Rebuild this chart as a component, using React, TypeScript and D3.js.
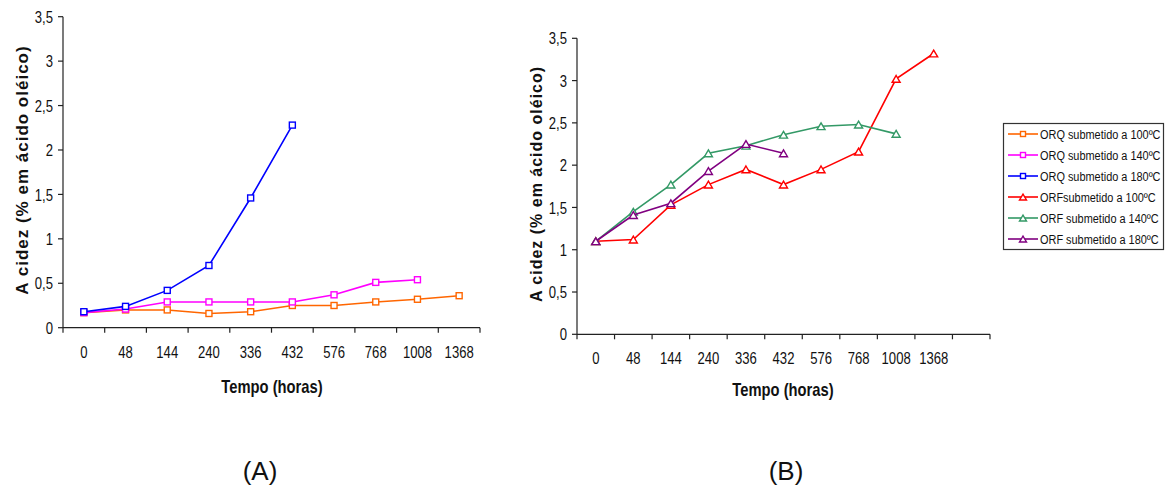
import React from "react";
import * as d3 from "d3";

const categoriesA = ["0", "48", "144", "240", "336", "432", "576", "768", "1008", "1368"];
const categoriesB = ["0", "48", "144", "240", "336", "432", "576", "768", "1008", "1368", ""];
const yTicks = [0, 0.5, 1, 1.5, 2, 2.5, 3, 3.5];

const orq100 = [0.17, 0.2, 0.2, 0.16, 0.18, 0.25, 0.25, 0.29, 0.32, 0.36];
const orq140 = [0.17, 0.21, 0.29, 0.29, 0.29, 0.29, 0.37, 0.51, 0.54, null];
const orq180 = [0.18, 0.24, 0.42, 0.7, 1.46, 2.28, null, null, null, null];
const orf100 = [1.1, 1.12, 1.53, 1.77, 1.95, 1.77, 1.95, 2.16, 3.02, 3.32];
const orf140 = [1.1, 1.45, 1.77, 2.14, 2.23, 2.36, 2.46, 2.48, 2.37, null];
const orf180 = [1.1, 1.41, 1.55, 1.93, 2.25, 2.14, null, null, null, null];

const seriesA = [
  { name: "ORQ submetido a 100ºC", values: orq100, color: "#FF6600" },
  { name: "ORQ submetido a 140ºC", values: orq140, color: "#FF00FF" },
  { name: "ORQ submetido a 180ºC", values: orq180, color: "#0000FF" },
];
const seriesB = [
  { name: "ORFsubmetido a 100ºC", values: orf100, color: "#FF0000" },
  { name: "ORF submetido a 140ºC", values: orf140, color: "#339966" },
  { name: "ORF submetido a 180ºC", values: orf180, color: "#800080" },
];

const sans = "'Liberation Sans', Arial, sans-serif";

type Series = { name: string; values: (number | null)[]; color: string };

function NText({
  x, y, size, anchor = "start", weight = "normal", sx = 0.82, dy, children,
}: {
  x: number; y: number; size: number; anchor?: "start" | "middle" | "end"; weight?: string; sx?: number; dy?: string; children: React.ReactNode;
}) {
  return (
    <text
      transform={`translate(${x},${y}) scale(${sx},1)`}
      textAnchor={anchor}
      fontFamily={sans}
      fontSize={size}
      fontWeight={weight}
      dy={dy}
      fill="#111"
    >
      {children}
    </text>
  );
}

function Square({ x, y, color, s = 6 }: { x: number; y: number; color: string; s?: number }) {
  return <rect x={x - s / 2} y={y - s / 2} width={s} height={s} fill="#fff" stroke={color} strokeWidth={1.4} />;
}
function Tri({ x, y, color, s = 8 }: { x: number; y: number; color: string; s?: number }) {
  const h = s * 0.85;
  const p = `M${x},${y - h / 2}L${x + s / 2},${y + h / 2}L${x - s / 2},${y + h / 2}Z`;
  return <path d={p} fill="#fff" stroke={color} strokeWidth={1.4} />;
}

function Panel({
  cats, series, x0, x1, yTop, yBot, marker, yLabelRight, tickLabelY, yTitleX, yTitleY, yTitleSize, xTitleX, xTitleY,
}: {
  cats: string[]; series: Series[]; x0: number; x1: number; yTop: number; yBot: number; marker: "sq" | "tri";
  yLabelRight: number; tickLabelY: number; yTitleX: number; yTitleY: number; yTitleSize: number; xTitleX: number; xTitleY: number;
}) {
  const keys = cats.map((c, i) => c + "_" + i);
  const x = d3.scaleBand<string>().domain(keys).range([x0, x1]).paddingInner(0).paddingOuter(0);
  const y = d3.scaleLinear().domain([0, 3.5]).range([yBot, yTop]);
  const cx = (i: number) => (x(keys[i]) as number) + x.bandwidth() / 2;
  const boundaries = keys.map((k) => x(k) as number).concat([x1]);
  return (
    <g>
      <line x1={x0} x2={x0} y1={yTop} y2={yBot} stroke="#222" strokeWidth={1.2} />
      <line x1={x0} x2={x1} y1={yBot} y2={yBot} stroke="#222" strokeWidth={1.2} />
      {yTicks.map((t) => (
        <g key={"yt" + t}>
          <line x1={x0 - 5} x2={x0} y1={y(t)} y2={y(t)} stroke="#222" strokeWidth={1.2} />
          <NText x={yLabelRight} y={y(t)} dy="0.36em" anchor="end" size={17} sx={0.77}>
            {String(t).replace(".", ",")}
          </NText>
        </g>
      ))}
      {boundaries.map((b, i) => (
        <line key={"xt" + i} x1={b} x2={b} y1={yBot} y2={yBot + 5} stroke="#222" strokeWidth={1.2} />
      ))}
      {cats.map((c, i) => (
        <NText key={"xl" + i} x={cx(i)} y={tickLabelY} anchor="middle" size={17} sx={0.77}>
          {c}
        </NText>
      ))}
      <text
        transform={`translate(${yTitleX},${yTitleY}) rotate(-90)`}
        textAnchor="middle"
        fontFamily={sans}
        fontWeight="bold"
        fontSize={yTitleSize}
        letterSpacing={1}
        fill="#111"
      >
        A cidez (% em ácido oléico)
      </text>
      <NText x={xTitleX} y={xTitleY} anchor="middle" weight="bold" size={18}>
        Tempo (horas)
      </NText>
      {series.map((s) => {
        const pts = s.values.map((v, i) => ({ v, i })).filter((p) => p.v !== null) as { v: number; i: number }[];
        const line = d3
          .line<{ v: number; i: number }>()
          .x((p) => cx(p.i))
          .y((p) => y(p.v));
        return (
          <g key={s.name}>
            <path d={line(pts) || ""} fill="none" stroke={s.color} strokeWidth={1.6} />
            {pts.map((p) =>
              marker === "sq" ? (
                <Square key={p.i} x={cx(p.i)} y={y(p.v)} color={s.color} />
              ) : (
                <Tri key={p.i} x={cx(p.i)} y={y(p.v)} color={s.color} />
              )
            )}
          </g>
        );
      })}
    </g>
  );
}

export default function App() {
  const legendItems = [
    ...seriesA.map((s) => ({ ...s, m: "sq" })),
    ...seriesB.map((s) => ({ ...s, m: "tri" })),
  ];
  const ly = d3.scaleLinear().domain([0, 5]).range([134, 239]);
  return (
    <svg width={1168} height={489} style={{ position: "absolute", left: 0, top: 0, background: "#fff" }}>
      <rect x={0} y={0} width={1168} height={489} fill="#fff" />
      <Panel
        cats={categoriesA}
        series={seriesA}
        x0={63}
        x1={480}
        yTop={16.7}
        yBot={327.7}
        marker="sq"
        yLabelRight={53}
        tickLabelY={358}
        yTitleX={28}
        yTitleY={170}
        yTitleSize={17}
        xTitleX={272}
        xTitleY={393}
      />
      <Panel
        cats={categoriesB}
        series={seriesB}
        x0={577}
        x1={990}
        yTop={38.3}
        yBot={334.3}
        marker="tri"
        yLabelRight={567}
        tickLabelY={364}
        yTitleX={542}
        yTitleY={184}
        yTitleSize={16}
        xTitleX={783}
        xTitleY={396}
      />
      <rect x={1003.5} y={123.5} width={160} height={126} fill="#fff" stroke="#333" strokeWidth={1.2} />
      {legendItems.map((s, i) => (
        <g key={s.name}>
          <line x1={1008} x2={1038} y1={ly(i)} y2={ly(i)} stroke={s.color} strokeWidth={1.6} />
          {s.m === "sq" ? <Square x={1023} y={ly(i)} color={s.color} s={5} /> : <Tri x={1023} y={ly(i)} color={s.color} s={7} />}
          <NText x={1040} y={ly(i)} dy="0.36em" size={13.5} sx={0.81}>
            {s.name}
          </NText>
        </g>
      ))}
      <text x={260} y={480} textAnchor="middle" fontFamily={sans} fontSize={26} fill="#111">(A)</text>
      <text x={786} y={480} textAnchor="middle" fontFamily={sans} fontSize={26} fill="#111">(B)</text>
    </svg>
  );
}
